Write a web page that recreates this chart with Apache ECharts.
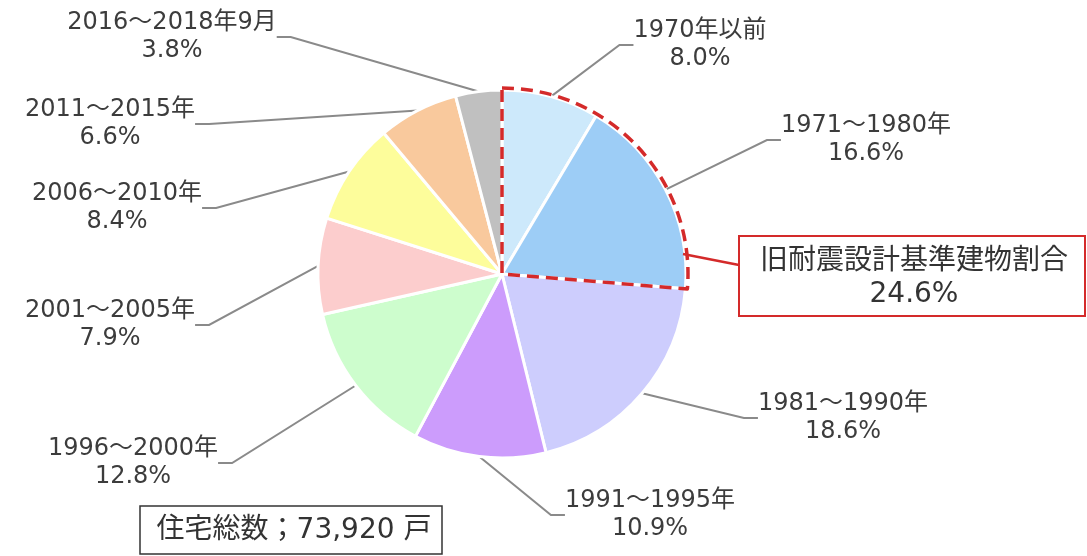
<!DOCTYPE html>
<html>
<head>
<meta charset="utf-8">
<script src="https://cdn.jsdelivr.net/npm/echarts@6/dist/echarts.min.js"></script>
<style>html,body{margin:0;padding:0;background:#fff;}#c{width:1087px;height:556px;}</style>
</head>
<body>
<div id="c"></div>
<script>
// ---- data ----
const categories = ['1970年以前','1971～1980年','1981～1990年','1991～1995年','1996～2000年','2001～2005年','2006～2010年','2011～2015年','2016～2018年9月'];
const shares = [8.0, 16.6, 18.6, 10.9, 12.8, 7.9, 8.4, 6.6, 3.8];
const oldStandardCount = 2; // first two categories = old seismic standard
const oldStandardTitle = '旧耐震設計基準建物割合';
const totalLabel = '住宅総数；73,920 戸';

// ---- styles / layout ----
const colors = ['#cde9fb','#9dcdf6','#cdcdfd','#cc9cfc','#cdfdcd','#fccdcd','#fdfd9b','#f9c99d','#c0c0c0'];
const labelPos = [[700,45],[866,140],[843,418],[650,515],[133,463],[110,325],[117,208],[110,124],[172,37]];
const CX = 502, CY = 274, R = 184;

const oldSum = shares.slice(0, oldStandardCount).reduce((a,b)=>a+b,0);
const restSum = shares.slice(oldStandardCount).reduce((a,b)=>a+b,0);

const chart = echarts.init(document.getElementById('c'));
const font = '"DejaVu Sans","Noto Sans CJK JP",sans-serif';
chart.setOption({
  backgroundColor: '#fff',
  animation: false,
  series: [
    {
      type: 'pie',
      center: [CX, CY],
      radius: R,
      startAngle: 90,
      clockwise: true,
      silent: true,
      itemStyle: { borderColor: '#fff', borderWidth: 3 },
      label: {
        show: true,
        position: 'outside',
        formatter: p => p.name + '\n' + p.value.toFixed(1) + '%',
        fontFamily: font,
        fontSize: 24,
        lineHeight: 28,
        color: '#3c3c3c',
        align: 'center'
      },
      labelLine: { show: true, length: 20, length2: 14, lineStyle: { color: '#8a8a8a', width: 2 } },
      labelLayout: function (params) {
        const p = labelPos[params.dataIndex];
        return { x: p[0], y: p[1], align: 'center', verticalAlign: 'middle' };
      },
      data: categories.map((c, i) => ({ name: c, value: shares[i], itemStyle: { color: colors[i] } }))
    },
    {
      type: 'pie',
      center: [CX, CY],
      radius: R + 2,
      startAngle: 90,
      clockwise: true,
      silent: true,
      z: 5,
      label: { show: false },
      labelLine: { show: false },
      data: [
        { name: 'old', value: oldSum, itemStyle: { color: 'rgba(0,0,0,0)', borderColor: '#d42a2a', borderWidth: 3.5, borderType: [12, 7] } },
        { name: 'rest', value: restSum, itemStyle: { color: 'rgba(0,0,0,0)', borderWidth: 0 } }
      ]
    }
  ],
  graphic: [
    { type: 'line', shape: { x1: 683, y1: 254, x2: 739, y2: 265 }, style: { stroke: '#d42a2a', lineWidth: 2.5 }, z: 10 },
    { type: 'rect', shape: { x: 739, y: 236, width: 346, height: 80 }, style: { fill: '#fff', stroke: '#d42a2a', lineWidth: 2 }, z: 10 },
    { type: 'text', x: 914, y: 278, z: 11, style: { text: oldStandardTitle + '\n' + oldSum.toFixed(1) + '%', fontFamily: font, fontSize: 28, lineHeight: 33, fill: '#333', align: 'center', verticalAlign: 'middle' } },
    { type: 'rect', shape: { x: 140, y: 506, width: 302, height: 48 }, style: { fill: '#fff', stroke: '#333', lineWidth: 1.5 }, z: 10 },
    { type: 'text', x: 294, y: 531, z: 11, style: { text: totalLabel, fontFamily: font, fontSize: 28, fill: '#333', align: 'center', verticalAlign: 'middle' } }
  ]
});
</script>
</body>
</html>
